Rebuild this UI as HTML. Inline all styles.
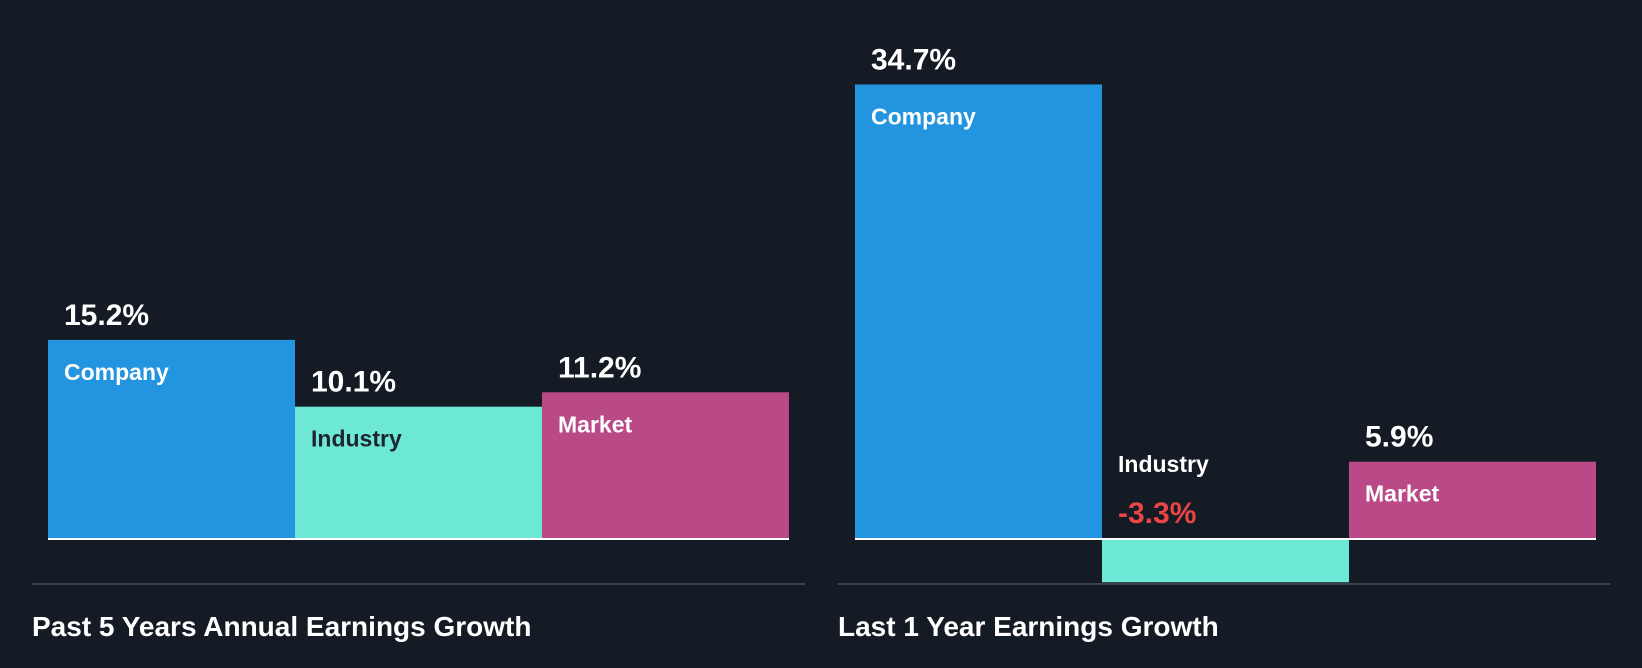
<!DOCTYPE html>
<html><head><meta charset="utf-8"><style>
html,body{margin:0;padding:0;background:#151b24;}
svg{display:block;font-family:"Liberation Sans",sans-serif;font-weight:bold;}
</style></head><body>
<svg width="1642" height="668" viewBox="0 0 1642 668">
<rect width="1642" height="668" fill="#151b24"/>
<g id="marks"></g>
</svg>
<script>
const categories = ["Company", "Industry", "Market"];
const past5Values = [15.2, 10.1, 11.2];
const last1Values = [34.7, -3.3, 5.9];
const valueLabels5 = ["15.2%", "10.1%", "11.2%"];
const valueLabels1 = ["34.7%", "-3.3%", "5.9%"];
const titles = ["Past 5 Years Annual Earnings Growth", "Last 1 Year Earnings Growth"];

const colors = ["#2394df", "#6ee8d6", "#b94a87"];
const baseY = 539, pxPerUnit = 13.1, barW = 247;
const panels = [{x0: 48, sepX: 32, sepW: 773, values: past5Values, labels: valueLabels5, title: titles[0], key: "past-5y"},
                {x0: 855, sepX: 838, sepW: 772, values: last1Values, labels: valueLabels1, title: titles[1], key: "last-1y"}];
const NS = "http://www.w3.org/2000/svg";
const g = document.getElementById("marks");
function yScale(v){ return baseY - v * pxPerUnit; }
function mk(tag, attrs, text){
  const e = document.createElementNS(NS, tag);
  for (const k in attrs) e.setAttribute(k, attrs[k]);
  if (text !== undefined) e.textContent = text;
  g.appendChild(e); return e;
}
panels.forEach(p => {
  p.values.forEach((v, i) => {
    const x = p.x0 + i * barW;
    const top = Math.min(yScale(v), baseY), h = Math.abs(yScale(v) - baseY);
    const r = mk("rect", {x: x, y: top, width: barW, height: h, fill: colors[i]});
    
    
    let catY, valY, catFill = i === 1 ? "#1c2530" : "#ffffff", valFill = "#ffffff";
    if (v >= 0) { valY = top - 15; catY = top + 40; }
    else { catY = baseY - 67; valY = baseY - 16; catFill = "#ffffff"; valFill = "#e84545"; }
    const vt = mk("text", {x: x + 16, y: valY, fill: valFill, "font-size": 30}, p.labels[i]);
    
    
    const ct = mk("text", {x: x + 16, y: catY, fill: catFill, "font-size": 23}, categories[i]);
    
    
  });
  const bl = mk("rect", {x: p.x0, y: baseY - 1, width: barW * 3, height: 2, fill: "#ffffff"});
  
  
  const sp = mk("rect", {x: p.sepX, y: 583, width: p.sepW, height: 2, fill: "#3d434c"});
  
  
  const t = mk("text", {x: p.sepX, y: 636, fill: "#ffffff", "font-size": 28}, p.title);
  
  
});
</script>
</body></html>
